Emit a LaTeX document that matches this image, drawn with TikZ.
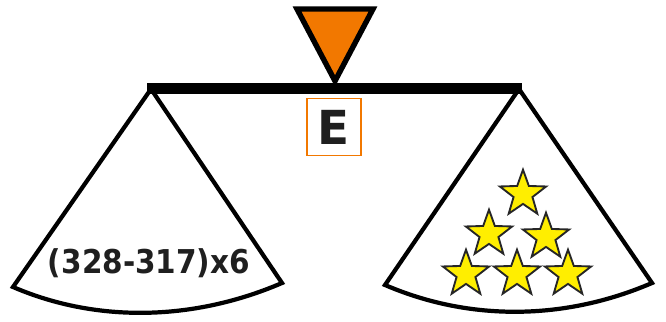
\documentclass[tikz,border=0pt]{standalone}
\usepackage{fontspec}
\setmainfont{DejaVu Sans}
\usetikzlibrary{shapes.geometric}
\definecolor{pivotc}{RGB}{242,120,0}
\definecolor{starc}{RGB}{255,238,0}
\tikzset{
  panline/.style={line width=3.6pt,line join=miter},
  starmark/.style={star,star points=5,star point ratio=2.45,inner sep=0pt,
                   minimum size=14.6mm,fill=starc,draw=black!85,line width=1.6pt},
}
\begin{document}
\begin{tikzpicture}[x=0.3mm,y=-0.3mm]
\useasboundingbox (0,0) rectangle (666,322);

% beam ends and pan corners
\coordinate (lapex) at (151,89);
\coordinate (rapex) at (519,89);
\coordinate (ll) at (13,287);
\coordinate (lr) at (282,283);
\coordinate (rl) at (385,285);
\coordinate (rr) at (652,283);

% pans
\draw[panline] (ll) -- (lapex) -- (lr)
  .. controls ++(-86,37) and ++(86,37) .. (ll) -- cycle;
\draw[panline] (rl) -- (rapex) -- (rr)
  .. controls ++(-86,37) and ++(86,37) .. (rl) -- cycle;

% beam
\coordinate (bl) at (147,88.5);
\coordinate (br) at (522,88.5);
\draw[line width=9.8pt] (bl) -- (br);

% pivot
\coordinate (pa) at (297,9);
\coordinate (pb) at (373,9);
\coordinate (pc) at (335,81);
\draw[fill=pivotc,line width=4.6pt,line join=miter] (pa) -- (pb) -- (pc) -- cycle;

% unknown
\node[draw=pivotc,line width=1.3pt,minimum width=16.2mm,minimum height=17.1mm,
      inner sep=0pt,font=\fontsize{40}{40}\selectfont\bfseries,text=black!88]
  (unk) at (334,127) {E};

% left pan label
\node[font=\fontsize{28}{28}\selectfont\bfseries,text=black!88,xscale=0.9]
  (expr) at (149,263) {(328-317)x6};

% stars
\foreach \x/\y [count=\i] in {523/194, 489/234, 546/237, 466/274, 517/274, 568/274}{
  \node[starmark] (s\i) at (\x,\y) {};
}

\end{tikzpicture}
\end{document}
